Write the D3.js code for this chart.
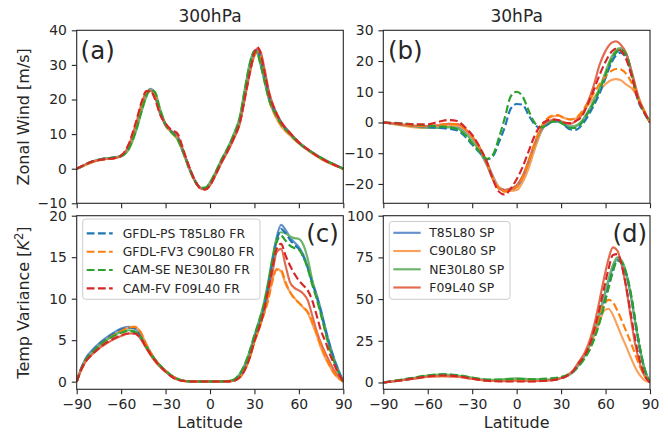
<!DOCTYPE html>
<html><head><meta charset="utf-8">
<script src="https://cdn.jsdelivr.net/npm/d3@7/dist/d3.min.js"></script>
<style>
html,body{margin:0;padding:0;background:#fff;}
svg{display:block;}
text{font-family:"DejaVu Sans",sans-serif;fill:#262626;}
</style></head><body>
<svg id="chart" width="668" height="436"></svg>
<script>
// ---------------- DATA ----------------
const xTicks = [-90,-60,-30,0,30,60,90];
const yTicksA = [-10,0,10,20,30,40];
const yTicksB = [-20,-10,0,10,20,30];
const yTicksC = [0,5,10,15,20];
const yTicksD = [0,25,50,75,100];
const titles = ["300hPa","30hPa"];
const frNames = ["GFDL-PS T85L80 FR","GFDL-FV3 C90L80 FR","CAM-SE NE30L80 FR","CAM-FV F09L40 FR"];
const spNames = ["T85L80 SP","C90L80 SP","NE30L80 SP","F09L40 SP"];

// Panel (a): 300hPa zonal wind
const latA = [-90,-85,-80,-75,-70,-65,-60,-55,-50,-46,-43,-40,-37,-34,-30,-26,-22,-18,-14,-10,-6,-3,0,4,8,12,16,20,24,27,30,32,34,37,40,44,48,54,60,66,72,78,84,90];
const aPSFR  = [0,1.0,2.0,2.6,3.0,3.2,3.8,6.2,12.2,18.3,21.7,23.0,21.3,16.5,12.5,10.8,9.0,5.0,0.3,-3.5,-5.6,-5.8,-4.5,-1.3,2.3,5.5,9.0,13.5,22.5,29.0,33.5,34.3,32.0,26.5,20.5,16.3,13.3,10.2,7.5,5.5,3.8,2.3,1.1,0];
const aFV3FR = [0,0.9,1.8,2.5,2.9,3.1,3.7,6.0,12.0,18.0,21.5,22.8,21.4,16.8,12.5,10.5,8.7,4.8,0.2,-3.6,-5.7,-5.9,-4.6,-1.4,2.2,5.4,8.9,13.4,22.0,28.5,33.0,33.8,31.8,26.0,19.8,15.5,12.5,9.8,7.3,5.4,3.7,2.2,1.0,0];
const aSEFR  = [0,1.0,2.0,2.6,3.0,3.2,3.6,5.6,11.0,17.0,21.0,22.8,22.0,17.5,12.8,10.5,8.6,4.6,0.0,-3.8,-5.6,-5.5,-4.0,-0.8,2.8,6.0,9.8,14.5,24.0,30.5,34.0,33.5,30.5,25.0,19.8,16.0,13.0,10.0,7.4,5.5,3.9,2.4,1.2,0];
const aFVFR  = [0,1.1,2.0,2.5,2.8,3.0,3.8,7.0,13.5,19.5,22.4,22.3,20.0,16.0,13.0,11.2,10.2,5.5,0.5,-3.6,-5.8,-6.0,-4.8,-1.5,2.0,5.2,8.8,13.0,21.5,28.0,33.5,35.2,33.5,27.5,21.5,16.8,13.5,10.3,7.6,5.6,3.8,2.3,1.1,0];
const aPSSP  = [0,1.0,2.0,2.6,3.0,3.2,3.8,6.0,12.0,18.0,21.6,23.1,21.5,16.7,12.6,10.6,8.8,4.8,0.2,-3.6,-5.6,-5.7,-4.4,-1.2,2.4,5.6,9.2,13.8,22.8,29.2,33.6,34.4,32.2,26.8,20.8,16.5,13.4,10.3,7.6,5.6,3.9,2.4,1.2,0];
const aFV3SP = [0,0.9,1.8,2.4,2.8,3.0,3.6,5.8,11.8,17.8,21.4,22.8,21.5,17.0,12.6,10.4,8.5,4.6,0.1,-3.7,-5.7,-5.9,-4.7,-1.5,2.1,5.3,8.8,13.2,21.8,28.2,32.6,33.5,31.8,26.2,19.8,15.3,12.3,9.6,7.2,5.3,3.6,2.1,1.0,0];
const aSESP  = [0,1.0,2.0,2.6,3.0,3.2,3.6,5.5,10.8,16.8,20.8,22.7,22.0,17.7,13.0,10.6,8.6,4.5,-0.1,-3.8,-5.5,-5.4,-3.9,-0.7,2.9,6.1,10.0,14.8,24.3,30.8,34.0,33.3,30.2,24.8,19.7,16.0,13.1,10.1,7.5,5.6,4.0,2.5,1.2,0];
const aFVSP  = [0,1.0,1.9,2.5,2.8,3.0,3.7,6.6,13.0,19.0,22.2,22.5,20.5,16.3,12.8,10.8,9.6,5.2,0.4,-3.6,-5.8,-6.0,-4.8,-1.6,1.9,5.0,8.6,12.8,21.3,27.8,33.0,34.8,34.0,28.5,22.0,17.0,13.6,10.4,7.6,5.6,3.8,2.3,1.1,0];

// Panel (b): 30hPa zonal wind
const latB = [-90,-80,-70,-60,-52,-46,-40,-35,-30,-25,-20,-16,-12,-8,-4,0,4,8,12,16,20,24,28,32,36,40,44,48,52,56,60,64,67,70,74,78,82,86,90];
const bPSFR  = [0,-0.5,-1.0,-1.5,-1.8,-2.0,-2.6,-4.5,-7.2,-9.8,-12.0,-11.0,-6.5,-1.5,4.5,6.0,5.8,2.5,-0.5,-1.8,-1.0,0.3,0.6,-0.8,-2.2,-2.4,-0.8,2.0,5.5,9.5,14.5,19.5,21.8,22.7,21.0,14.5,7.0,3.2,0];
const bFV3FR = [0,-0.5,-1.0,-1.2,-0.8,-0.5,-0.6,-2.0,-4.5,-8.0,-13.0,-18.0,-21.5,-22.5,-22.0,-21.0,-18.0,-13.0,-7.0,-2.0,1.0,2.2,2.4,1.5,1.0,1.5,3.5,6.5,9.5,12.5,15.0,16.8,17.4,17.3,15.8,12.5,7.8,3.8,0];
const bSEFR  = [0,-0.2,-0.6,-1.0,-1.3,-1.5,-2.2,-4.0,-6.8,-9.5,-11.8,-10.5,-5.0,1.5,8.5,10.0,8.5,4.0,0.0,-1.5,-1.0,0.3,0.5,-0.7,-1.7,-1.8,0.0,3.0,6.5,10.5,15.5,20.5,22.8,23.8,22.0,15.0,7.5,3.4,0];
const bFVFR  = [0,-0.3,-0.6,-0.6,0.3,0.8,0.5,-1.5,-4.0,-8.0,-13.0,-18.5,-22.5,-23.5,-21.5,-18.5,-14.5,-9.5,-4.5,-1.0,0.5,1.0,0.8,0.0,-0.2,0.5,2.0,6.0,10.5,15.5,19.8,23.0,24.0,23.5,20.5,14.5,7.5,3.4,0];
const bPSSP  = [0,-0.6,-1.2,-1.6,-1.6,-1.4,-1.5,-2.8,-5.0,-8.5,-13.0,-17.5,-21.0,-22.0,-21.8,-21.0,-18.5,-14.0,-8.5,-3.5,-0.5,0.2,0.3,-0.5,-1.3,-1.2,0.0,3.0,6.5,10.5,15.5,20.3,22.6,23.5,22.0,15.0,7.5,3.6,0];
const bFV3SP = [0,-0.8,-1.5,-1.8,-1.5,-1.0,-1.0,-2.3,-4.8,-8.5,-13.5,-18.0,-21.0,-22.0,-22.3,-22.0,-19.5,-15.0,-9.0,-3.5,0.5,2.0,2.2,1.5,1.0,1.3,3.0,5.5,8.0,10.5,12.5,13.8,14.1,13.8,12.3,11.0,7.8,4.0,0];
const bSESP  = [0,-0.6,-1.2,-1.7,-1.8,-1.6,-2.0,-3.5,-6.0,-9.5,-14.0,-18.5,-21.5,-22.0,-21.5,-20.5,-17.5,-13.0,-7.5,-3.0,-0.3,0.3,0.2,-0.6,-1.5,-1.0,0.5,3.5,7.0,11.3,16.5,21.3,23.5,24.2,22.3,15.5,7.8,3.6,0];
const bFVSP  = [0,-0.5,-1.0,-1.2,-0.8,-0.4,-0.5,-2.0,-4.5,-8.3,-13.5,-18.5,-21.5,-22.0,-21.5,-20.5,-17.5,-12.5,-7.0,-2.5,0.0,0.8,0.7,0.0,-0.5,0.5,2.5,6.5,12.0,18.8,23.3,25.9,26.4,25.5,22.5,16.0,8.7,3.8,0];

// Panel (c): 300hPa temperature variance
const latC = [-90,-87,-84,-80,-75,-70,-65,-60,-55,-51,-47,-43,-39,-35,-30,-25,-20,-15,-10,0,10,15,18,21,24,27,30,33,36,39,42,45,48,51,54,57,60,63,66,69,72,75,78,81,84,87,90];
const cPSFR  = [0,1.6,2.7,3.6,4.5,5.2,5.8,6.3,6.5,6.4,5.6,4.3,3.1,2.2,1.3,0.6,0.2,0.05,0.02,0.02,0.03,0.1,0.3,0.8,1.8,3.2,5.2,6.7,8.5,11.2,14.3,17.0,18.4,17.9,17.1,16.5,16.0,15.1,13.7,11.9,10.3,8.4,6.2,4.3,2.6,1.2,0];
const cFV3FR = [0,1.5,2.6,3.4,4.3,5.0,5.6,6.1,6.5,6.6,6.0,4.5,3.2,2.2,1.3,0.6,0.2,0.05,0.02,0.02,0.02,0.08,0.25,0.7,1.6,3.0,4.8,6.3,7.9,9.6,12.0,13.5,13.4,12.0,10.8,10.0,9.5,9.0,8.4,7.3,5.8,4.3,3.0,1.9,1.0,0.4,0];
const cSEFR  = [0,1.5,2.6,3.4,4.3,5.0,5.5,5.9,6.1,6.0,5.4,4.2,3.1,2.2,1.3,0.6,0.2,0.05,0.02,0.02,0.05,0.15,0.5,1.2,2.3,3.8,5.6,7.2,9.0,11.5,14.5,16.8,17.6,17.0,16.4,16.1,15.9,15.0,13.6,11.7,10.0,8.0,5.9,3.9,2.3,1.0,0];
const cFVFR  = [0,1.4,2.4,3.2,4.0,4.7,5.2,5.6,5.8,5.8,5.3,4.1,3.0,2.1,1.2,0.5,0.15,0.04,0.02,0.02,0.02,0.08,0.25,0.7,1.6,3.0,4.9,6.4,8.2,10.8,13.5,16.0,16.6,15.2,14.0,13.0,12.2,11.6,11.0,9.8,8.0,6.1,4.8,3.3,2.0,0.9,0];
const cPSSP  = [0,1.6,2.8,3.7,4.6,5.3,5.9,6.4,6.6,6.5,5.7,4.3,3.1,2.2,1.3,0.6,0.2,0.05,0.02,0.02,0.03,0.1,0.3,0.8,1.9,3.3,5.3,6.8,8.6,11.3,14.5,17.4,18.9,18.3,17.4,16.8,16.2,15.3,13.9,12.1,10.5,8.6,6.4,4.4,2.7,1.3,0];
const cFV3SP = [0,1.5,2.6,3.4,4.3,5.0,5.6,6.1,6.5,6.6,6.0,4.5,3.2,2.2,1.3,0.6,0.2,0.05,0.02,0.02,0.02,0.08,0.25,0.7,1.6,3.0,4.8,6.3,8.0,9.8,12.2,13.6,13.3,11.8,10.8,10.1,9.5,8.9,8.3,7.0,5.6,4.0,2.8,1.8,0.9,0.4,0];
const cSESP  = [0,1.5,2.6,3.4,4.3,5.0,5.6,6.0,6.2,6.1,5.5,4.3,3.1,2.2,1.3,0.6,0.2,0.05,0.02,0.02,0.05,0.15,0.5,1.2,2.3,3.8,5.6,7.3,9.2,11.8,14.8,17.2,18.0,17.9,17.5,17.3,17.2,16.5,14.8,12.3,10.2,8.2,6.0,4.0,2.4,1.1,0];
const cFVSP  = [0,1.4,2.4,3.2,4.0,4.6,5.1,5.5,5.8,5.8,5.2,4.0,2.9,2.0,1.2,0.5,0.15,0.04,0.02,0.02,0.02,0.08,0.25,0.7,1.6,3.0,4.9,6.4,8.1,10.6,13.0,15.6,16.0,14.0,12.0,11.3,11.0,10.6,9.8,8.0,6.1,4.6,3.4,2.3,1.3,0.6,0];

// Panel (d): 30hPa temperature variance
const latD = [-90,-80,-70,-60,-50,-40,-30,-20,-10,0,10,20,28,34,38,42,46,50,53,56,59,62,65,68,71,74,77,80,83,86,90];
const dPSFR  = [0,1.2,2.6,4.0,4.7,4.2,2.7,1.5,1.2,1.5,1.3,1.5,2.3,4.0,6.2,10.0,15.0,21.5,28.5,37.0,47.0,57.5,67.5,73.0,71.5,64.5,53.0,37.0,21.0,8.8,0];
const dFV3FR = [0,1.1,2.5,3.8,4.3,3.9,2.5,1.3,1.0,1.2,1.1,1.3,2.2,4.0,6.5,11.0,17.0,24.5,31.5,39.5,46.5,49.5,48.0,43.0,37.0,30.5,24.0,17.0,10.0,4.5,0];
const dSEFR  = [0,1.3,2.8,4.2,4.9,4.4,2.9,1.8,1.8,2.2,1.9,2.3,3.0,4.5,6.5,10.0,14.5,21.0,27.5,36.0,46.0,56.5,66.5,73.2,72.0,65.5,54.0,38.0,22.0,9.3,0];
const dFVFR  = [0,1.0,2.3,3.6,4.2,3.7,2.3,1.0,0.6,0.6,0.6,1.0,2.0,4.0,6.8,11.5,16.5,24.5,33.5,44.5,56.5,68.0,76.5,77.0,70.0,57.0,41.5,26.0,13.5,5.0,0];
const dPSSP  = [0,1.1,2.5,3.9,4.5,4.0,2.6,1.4,1.3,1.8,1.5,1.5,2.3,4.0,6.2,10.5,16.0,24.0,31.5,40.5,50.5,60.5,69.0,74.3,72.5,65.0,52.0,36.0,21.0,9.0,0];
const dFV3SP = [0,1.0,2.3,3.5,3.8,3.4,2.2,1.1,1.0,1.5,1.2,1.2,2.2,4.0,6.5,11.0,17.0,23.0,29.5,36.5,43.0,44.2,40.5,34.0,27.5,21.5,15.0,9.0,4.5,1.5,0];
const dSESP  = [0,1.2,2.7,4.1,4.7,4.2,2.8,1.6,1.8,2.5,2.0,1.8,2.4,4.0,6.3,10.8,16.5,24.5,32.5,42.0,52.0,62.0,70.5,75.0,73.0,65.5,52.5,36.5,21.5,9.2,0];
const dFVSP  = [0,1.0,2.2,3.4,3.8,3.4,2.2,1.0,0.8,1.0,0.8,1.0,2.0,4.2,7.0,12.5,18.0,27.0,37.0,49.5,62.5,74.0,81.0,79.0,70.0,56.5,39.0,23.0,12.0,4.5,0];

// ---------------- STYLE ----------------
const frColors = ["#1f77b4","#ff7f0e","#2ca02c","#d62728"];
const spColors = ["#6490cc","#f9a25e","#6bb56b","#e26a4f"];
const LW = 2.15, DASH = "7.8,3.4";
const TICKFS = 13.9, LABELFS = 16, TITLEFS = 17, LEGFS = 12.4, TAGFS = 24.5;
const INK = "#262626";

const panels = [
  {lat:latA, fr:[aPSFR,aFV3FR,aSEFR,aFVFR], sp:[aPSSP,aFV3SP,aSESP,aFVSP], x0:76.7,x1:343.3,y0:30.3,y1:203.3, ydom:[-10,40], yt:yTicksA, xlab:false, title:titles[0], tag:"(a)", tagAnchor:"start", tagX:80.6, tagY:58.5},
  {lat:latB, fr:[bPSFR,bFV3FR,bSEFR,bFVFR], sp:[bPSSP,bFV3SP,bSESP,bFVSP], x0:383.3,x1:650,y0:30.3,y1:203.3, ydom:[-26.3,30], yt:yTicksB, xlab:false, title:titles[1], tag:"(b)", tagAnchor:"start", tagX:387.9, tagY:58.5},
  {lat:latC, fr:[cPSFR,cFV3FR,cSEFR,cFVFR], sp:[cPSSP,cFV3SP,cSESP,cFVSP], x0:76.7,x1:343.3,y0:215.7,y1:389.3, ydom:[-0.92,20], yt:yTicksC, xlab:true, tag:"(c)", tagAnchor:"end", tagX:338.8, tagY:242},
  {lat:latD, fr:[dPSFR,dFV3FR,dSEFR,dFVFR], sp:[dPSSP,dFV3SP,dSESP,dFVSP], x0:383.3,x1:650,y0:215.7,y1:389.3, ydom:[-4.1,100], yt:yTicksD, xlab:true, tag:"(d)", tagAnchor:"end", tagX:647.1, tagY:242}
];

const svg = d3.select("#chart");
const fmt = d => d < 0 ? "\u2212" + Math.abs(d) : String(d);

panels.forEach((p, i) => {
  const x = d3.scaleLinear().domain([-90, 90]).range([p.x0, p.x1]);
  const y = d3.scaleLinear().domain(p.ydom).range([p.y1, p.y0]);
  const clipId = "clip" + i;
  svg.append("clipPath").attr("id", clipId).append("rect")
    .attr("x", p.x0).attr("y", p.y0).attr("width", p.x1 - p.x0).attr("height", p.y1 - p.y0);
  const g = svg.append("g").attr("clip-path", `url(#${clipId})`);
  const line = arr => d3.line().curve(d3.curveMonotoneX)
      .x((d, k) => x(p.lat[k])).y(d => y(d))(arr);
  p.sp.forEach((arr, k) => {
    g.append("path").attr("d", line(arr)).attr("fill", "none")
      .attr("stroke", spColors[k]).attr("stroke-width", LW)
      .attr("stroke-linejoin", "round");
  });
  p.fr.forEach((arr, k) => {
    g.append("path").attr("d", line(arr)).attr("fill", "none")
      .attr("stroke", frColors[k]).attr("stroke-width", LW)
      .attr("stroke-dasharray", DASH).attr("stroke-linejoin", "round");
  });

  const xa = d3.axisBottom(x).tickValues(xTicks).tickSize(4.9).tickSizeOuter(0).tickPadding(4.9)
      .tickFormat(p.xlab ? fmt : () => "");
  const gx = svg.append("g").attr("transform", `translate(0,${p.y1})`).call(xa);
  const ya = d3.axisLeft(y).tickValues(p.yt).tickSize(4.9).tickSizeOuter(0).tickPadding(4.9).tickFormat(fmt);
  const gy = svg.append("g").attr("transform", `translate(${p.x0},0)`).call(ya);
  [gx, gy].forEach(a => {
    a.attr("font-family", "DejaVu Sans").attr("font-size", TICKFS);
    a.select(".domain").remove();
    a.selectAll(".tick line").attr("stroke", INK).attr("stroke-width", 1.1);
    a.selectAll(".tick text").attr("fill", INK);
  });
  svg.append("rect").attr("x", p.x0).attr("y", p.y0).attr("width", p.x1 - p.x0).attr("height", p.y1 - p.y0)
    .attr("fill", "none").attr("stroke", INK).attr("stroke-width", 1.1);

  if (p.title) {
    svg.append("text").attr("x", (p.x0 + p.x1) / 2).attr("y", 22).attr("text-anchor", "middle")
      .attr("font-size", TITLEFS).text(p.title);
  }
  if (p.xlab) {
    svg.append("text").attr("x", (p.x0 + p.x1) / 2).attr("y", 428).attr("text-anchor", "middle")
      .attr("font-size", LABELFS).text("Latitude");
  }
  svg.append("text").attr("x", p.tagX).attr("y", p.tagY).attr("text-anchor", p.tagAnchor)
    .attr("font-size", TAGFS).attr("fill", "#000").text(p.tag);
});

svg.append("text").attr("transform", "translate(29,116.8) rotate(-90)").attr("text-anchor", "middle")
  .attr("font-size", LABELFS).text("Zonal Wind [m/s]");
const tv = svg.append("text").attr("transform", "translate(29,302.5) rotate(-90)").attr("text-anchor", "middle")
  .attr("font-size", LABELFS);
tv.append("tspan").text("Temp Variance [");
tv.append("tspan").attr("font-style", "italic").text("K");
tv.append("tspan").attr("font-size", 11.5).attr("dy", -6.5).text("2");
tv.append("tspan").attr("dy", 6.5).text("]");

function legend(bx, by, bw, bh, hx0, hx1, tx, ys, names, colors, dashed) {
  svg.append("rect").attr("x", bx).attr("y", by).attr("width", bw).attr("height", bh)
    .attr("rx", 3).attr("fill", "#fff").attr("fill-opacity", 0.8)
    .attr("stroke", "#cccccc").attr("stroke-width", 1);
  names.forEach((n, k) => {
    svg.append("line").attr("x1", hx0).attr("x2", hx1).attr("y1", ys[k]).attr("y2", ys[k])
      .attr("stroke", colors[k]).attr("stroke-width", LW)
      .attr("stroke-dasharray", dashed ? DASH : null);
    svg.append("text").attr("x", tx).attr("y", ys[k]).attr("dy", "0.36em")
      .attr("font-size", LEGFS).text(n);
  });
}
legend(82.7, 219, 177.3, 80.3, 86.7, 112.7, 122.7, [233.3, 251.7, 270, 288.3], frNames, frColors, true);
legend(389.3, 221.5, 120.7, 77.8, 393.3, 420.7, 429.3, [232.8, 251, 269.3, 287.5], spNames, spColors, false);
</script>
</body></html>
